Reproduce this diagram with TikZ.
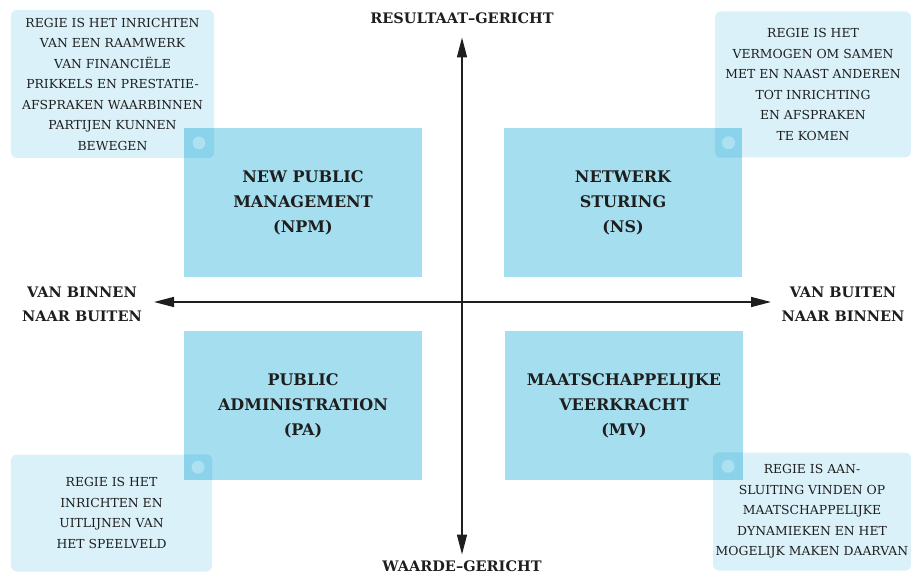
\documentclass[tikz,border=0pt]{standalone}
\usepackage{fontspec}
\setmainfont{DejaVu Serif}
\usetikzlibrary{arrows.meta,calc}
\definecolor{quadblue}{HTML}{A5DFEF}
\definecolor{noteblue}{HTML}{DAF1F9}
\definecolor{overblue}{HTML}{8AD3EA}
\definecolor{inkgray}{HTML}{1E1E1E}
\tikzset{>={Triangle[length=20bp,width=10bp]}}
\tikzset{
    quadbox/.style={fill=quadblue, inner sep=0pt, minimum width=238bp, minimum height=149bp,
        align=center, text=inkgray, font=\fontsize{16bp}{25bp}\selectfont\bfseries},
    callout/.style={fill=noteblue, rounded corners=6bp, inner sep=0pt, align=center,
        text=inkgray, font=\fontsize{12.4bp}{20.5bp}\selectfont},
    axislabel/.style={align=center, text=inkgray, font=\fontsize{14.5bp}{24bp}\selectfont\bfseries},
    axis/.style={draw=inkgray, line width=1.5bp, <->},
    dot/.style={fill=white, fill opacity=0.3}
}

\begin{document}
\begin{tikzpicture}[x=1bp,y=-1bp]
        \useasboundingbox (0,0) rectangle (911,574);
        % callouts
        \node[callout, minimum width=203bp, minimum height=148bp] (tlnote) at (112.5,84)
            {REGIE IS HET INRICHTEN\\VAN EEN RAAMWERK\\VAN FINANCIËLE\\PRIKKELS EN PRESTATIE-\\AFSPRAKEN WAARBINNEN\\PARTIJEN KUNNEN\\BEWEGEN};
        \node[callout, minimum width=196bp, minimum height=146bp] (trnote) at (813,84.5)
            {REGIE IS HET\\VERMOGEN OM SAMEN\\MET EN NAAST ANDEREN\\TOT INRICHTING\\EN AFSPRAKEN\\TE KOMEN};
        \node[callout, minimum width=201bp, minimum height=117bp] (blnote) at (111.5,513)
            {REGIE IS HET\\INRICHTEN EN\\UITLIJNEN VAN\\HET SPEELVELD};
        \node[callout, minimum width=198bp, minimum height=118bp] (brnote) at (812,511.5)
            {REGIE IS AAN-\\SLUITING VINDEN OP\\MAATSCHAPPELIJKE\\DYNAMIEKEN EN HET\\MOGELIJK MAKEN DAARVAN};

        % quadrants
        \node[quadbox] (npm) at (303,202.5) {NEW PUBLIC\\MANAGEMENT\\(NPM)};
        \node[quadbox] (ns) at (623,202.5) {NETWERK\\STURING\\(NS)};
        \node[quadbox] (pa) at (303,405.5) {PUBLIC\\ADMINISTRATION\\(PA)};
        \node[quadbox] (mv) at (624,405.5) {MAATSCHAPPELIJKE\\VEERKRACHT\\(MV)};

        % overlaps
        \begin{scope}
            \clip[rounded corners=6bp] (tlnote.south west) rectangle (tlnote.north east);
            \fill[overblue] (npm.south west) rectangle (npm.north east);
        \end{scope}
        \begin{scope}
            \clip[rounded corners=6bp] (trnote.south west) rectangle (trnote.north east);
            \fill[overblue] (ns.south west) rectangle (ns.north east);
        \end{scope}
        \begin{scope}
            \clip[rounded corners=6bp] (blnote.south west) rectangle (blnote.north east);
            \fill[overblue] (pa.south west) rectangle (pa.north east);
        \end{scope}
        \begin{scope}
            \clip[rounded corners=6bp] (brnote.south west) rectangle (brnote.north east);
            \fill[overblue] (mv.south west) rectangle (mv.north east);
        \end{scope}
        \fill[dot] ($(npm.north west)!0.5!(tlnote.south east)$) circle (6.5);
        \fill[dot] ($(ns.north east)!0.5!(trnote.south west)$) circle (6.5);
        \fill[dot] ($(pa.south west)!0.5!(blnote.north east)$) circle (6.5);
        \fill[dot] ($(mv.south east)!0.5!(brnote.north west)$) circle (6.5);

        % axes
        \coordinate (top) at (462,37.5);
        \coordinate (bottom) at (462,554.5);
        \coordinate (left) at (154,302);
        \coordinate (right) at (771,302);
        \draw[axis] (top) -- (bottom);
        \draw[axis] (left) -- (right);
        \node[axislabel] (result) at (462,18.5) {RESULTAAT--GERICHT};
        \node[axislabel] (value) at (462,566) {WAARDE--GERICHT};
        \node[axislabel] (inout) at (82,304.5) {VAN BINNEN\\NAAR BUITEN};
        \node[axislabel] (outin) at (843,304.5) {VAN BUITEN\\NAAR BINNEN};
    \end{tikzpicture}
\end{document}
